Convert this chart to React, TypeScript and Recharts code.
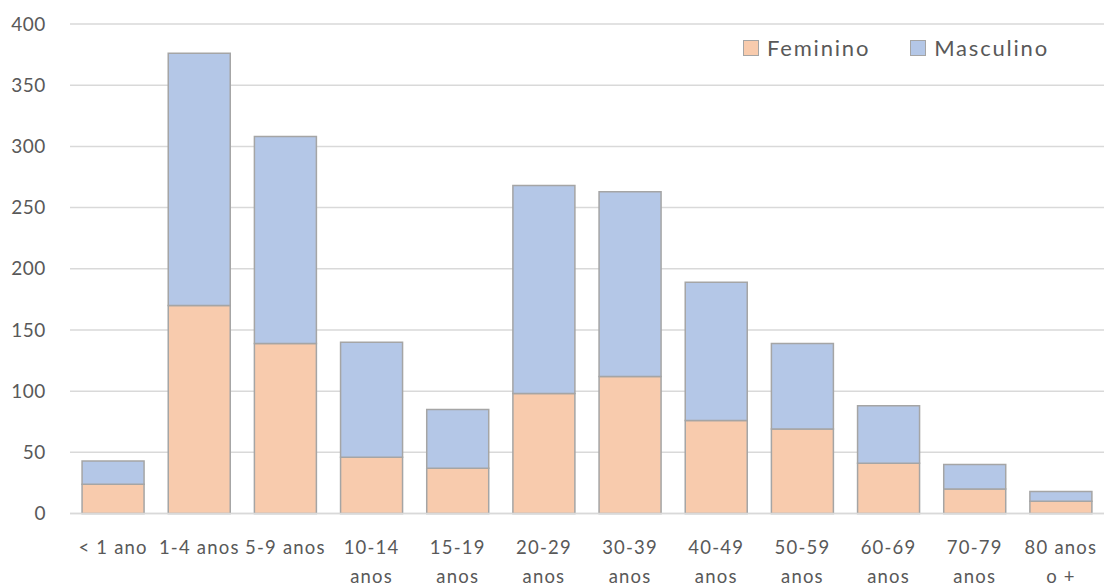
import { BarChart, Bar, XAxis, YAxis, CartesianGrid, Legend } from 'recharts'

const categories = [
  '< 1 ano',
  '1-4 anos',
  '5-9 anos',
  '10-14\nanos',
  '15-19\nanos',
  '20-29\nanos',
  '30-39\nanos',
  '40-49\nanos',
  '50-59\nanos',
  '60-69\nanos',
  '70-79\nanos',
  '80 anos\no +',
]
const feminino = [24, 170, 139, 46, 37, 98, 112, 76, 69, 41, 20, 10]
const masculino = [19, 206, 169, 94, 48, 170, 151, 113, 70, 47, 20, 8]
const yTicks = [0, 50, 100, 150, 200, 250, 300, 350, 400]

const seriesNames = ['Feminino', 'Masculino']
const seriesColors = ['#f8cbad', '#b4c7e7']

const data = categories.map((c, i) => ({
  name: c,
  Feminino: feminino[i],
  Masculino: masculino[i],
}))

const FONT = 'Lato, "Open Sans", sans-serif'
const TEXT = '#595959'

function XTick({ x, y, payload }: any) {
  const lines = String(payload.value).split('\n')
  return (
    <text x={x} y={y} textAnchor="middle" fill={TEXT} fontSize={18.5} fontFamily={FONT} letterSpacing={1.2}>
      {lines.map((l, i) => (
        <tspan key={i} x={x} y={y + 40 + i * 29.5}>
          {l}
        </tspan>
      ))}
    </text>
  )
}

function LegendBox() {
  return (
    <div style={{ display: 'flex', alignItems: 'center', fontFamily: FONT, fontSize: 22, color: TEXT, letterSpacing: 1.8 }}>
      {seriesNames.map((n, i) => (
        <div key={n} style={{ display: 'flex', alignItems: 'center', marginRight: i === 0 ? 40 : 0 }}>
          <span
            style={{
              display: 'inline-block',
              width: 14,
              height: 14,
              background: seriesColors[i],
              border: '1.5px solid #a5a5a5',
              marginRight: 8,
            }}
          />
          <span>{n}</span>
        </div>
      ))}
    </div>
  )
}

export default function App() {
  return (
    <div style={{ position: 'fixed', top: 0, left: 0, width: 1104, height: 585, background: '#fff', overflow: 'hidden' }}>
      <BarChart
        width={1104}
        height={585}
        data={data}
        margin={{ top: 24, right: 0, left: 0, bottom: 0 }}
        barCategoryGap="14%"
      >
        <CartesianGrid vertical={false} stroke="#d9d9d9" strokeWidth={1.5} />
        <XAxis
          dataKey="name"
          interval={0}
          height={71.5}
          tickLine={false}
          tickSize={0}
          tickMargin={0}
          axisLine={{ stroke: '#d9d9d9', strokeWidth: 1.5 }}
          tick={<XTick />}
        />
        <YAxis
          width={70}
          domain={[0, 400]}
          ticks={yTicks}
          axisLine={false}
          tickLine={false}
          tickSize={0}
          tickMargin={24}
          tick={{ fill: TEXT, fontSize: 19, fontFamily: FONT, letterSpacing: 0.6 }}
        />
        <Legend
          verticalAlign="middle"
          align="center"
          layout="horizontal"
          wrapperStyle={{ top: 34, left: 743, width: 'auto' }}
          content={<LegendBox />}
        />
        <Bar
          dataKey="Feminino"
          stackId="a"
          fill={seriesColors[0]}
          stroke="#a5a5a5"
          strokeWidth={1.5}
          isAnimationActive={false}
        />
        <Bar
          dataKey="Masculino"
          stackId="a"
          fill={seriesColors[1]}
          stroke="#a5a5a5"
          strokeWidth={1.5}
          isAnimationActive={false}
        />
      </BarChart>
    </div>
  )
}
